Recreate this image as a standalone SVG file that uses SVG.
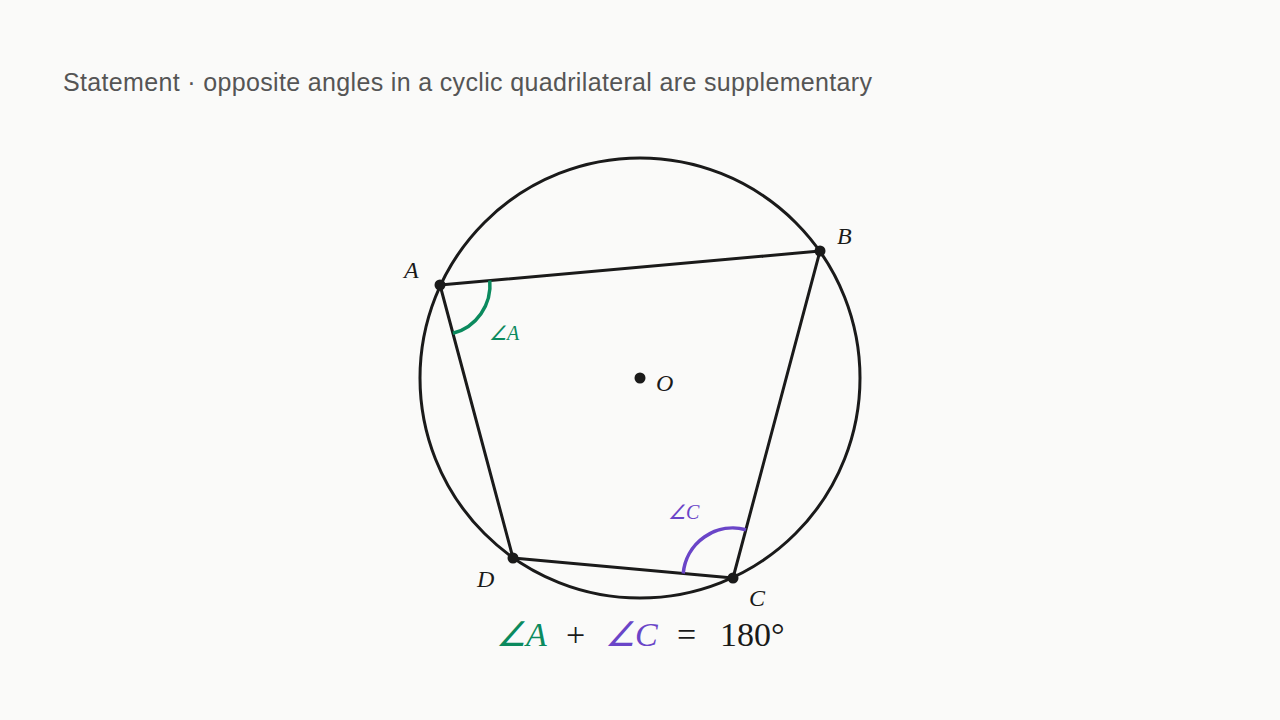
<svg xmlns="http://www.w3.org/2000/svg" width="1280" height="720" viewBox="0 0 1280 720">
<style>
.title{font-family:"Liberation Sans",Arial,sans-serif;font-size:25px;fill:#555555}
.lbl{font-family:"Liberation Serif","Times New Roman",serif;font-style:italic;font-size:24px;fill:#1a1a1a}
.sm{font-family:"Liberation Serif","Times New Roman",serif;font-style:italic;font-size:20px}
.eq{font-family:"Liberation Serif","Times New Roman",serif;font-size:34px;fill:#1a1a1a}
.ln{fill:none;stroke:#1a1a1a;stroke-width:3;stroke-linecap:round;stroke-linejoin:round}
.dot{fill:#1a1a1a}
.green{fill:#0b8a5e}
.purple{fill:#6a45c8}
</style>
<rect width="1280" height="720" fill="#fafaf9"/>
<text class="title" x="63" y="91" textLength="809" lengthAdjust="spacing">Statement · opposite angles in a cyclic quadrilateral are supplementary</text>
<g id="circle"><circle class="ln" cx="640" cy="378" r="220"/></g>
<g id="connectors">
<polygon class="ln" points="440,285 820,251 733,578 513,558"/>
</g>
<g id="angleA">
<path d="M489.8,280.5 A50,50 0 0 1 452.9,333.3" fill="none" stroke="#0b8a5e" stroke-width="3.5"/>
<text class="sm green" x="489" y="340">∠A</text>
</g>
<g id="angleC">
<path d="M683.2,573.5 A50,50 0 0 1 745.9,529.7" fill="none" stroke="#6a45c8" stroke-width="3.5"/>
<text class="sm purple" x="668" y="519">∠C</text>
</g>
<g id="A"><circle class="dot" cx="440" cy="285" r="5.5"/><text class="lbl" x="404" y="278">A</text></g>
<g id="B"><circle class="dot" cx="820" cy="251" r="5.5"/><text class="lbl" x="837" y="244">B</text></g>
<g id="C"><circle class="dot" cx="733" cy="578" r="5.5"/><text class="lbl" x="749" y="606">C</text></g>
<g id="D"><circle class="dot" cx="513" cy="558" r="5.5"/><text class="lbl" x="477" y="587">D</text></g>
<g id="O"><circle class="dot" cx="640" cy="378" r="5.5"/><text class="lbl" x="656" y="391">O</text></g>
<g id="equation">
<text class="eq" y="646"><tspan class="green" font-style="italic" x="496">∠A</tspan><tspan x="566">+</tspan><tspan class="purple" font-style="italic" x="605">∠C</tspan><tspan x="677">=</tspan><tspan x="720">180°</tspan></text>
</g>
</svg>
